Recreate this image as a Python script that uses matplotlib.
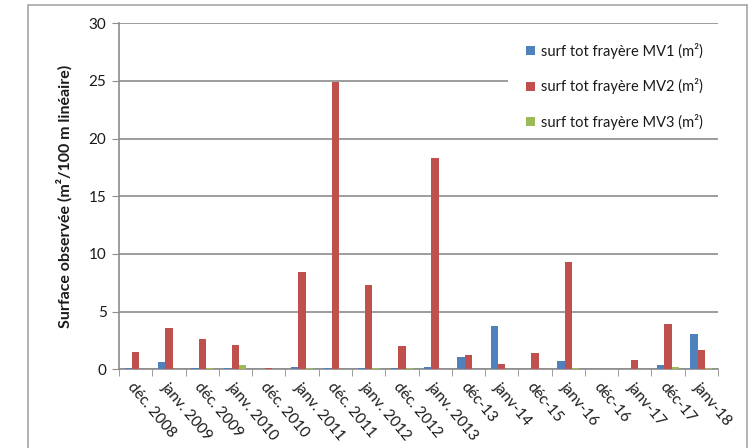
import numpy as np
import matplotlib.pyplot as plt
from matplotlib.patches import Rectangle

# --- Data ---
categories = ["déc. 2008", "janv. 2009", "déc. 2009", "janv. 2010", "déc. 2010",
              "janv. 2011", "déc. 2011", "janv. 2012", "déc. 2012", "janv. 2013",
              "déc-13", "janv-14", "déc-15", "janv-16", "déc-16", "janv-17",
              "déc-17", "janv-18"]
mv1 = [0.1, 0.6, 0.1, 0.1, 0.0, 0.2, 0.1, 0.1, 0.1, 0.2,
       1.1, 3.75, 0.0, 0.7, 0.0, 0.0, 0.4, 3.1]
mv2 = [1.5, 3.6, 2.6, 2.1, 0.1, 8.4, 24.9, 7.3, 2.0, 18.3,
       1.25, 0.45, 1.45, 9.3, 0.0, 0.8, 3.95, 1.7]
mv3 = [0.0, 0.0, 0.1, 0.35, 0.0, 0.1, 0.0, 0.1, 0.1, 0.0,
       0.0, 0.0, 0.0, 0.1, 0.0, 0.0, 0.2, 0.1]
labels = ["surf tot frayère MV1 (m²)", "surf tot frayère MV2 (m²)",
          "surf tot frayère MV3 (m²)"]
colors = ["#4F81BD", "#C0504D", "#9BBB59"]

plt.rcParams['font.family'] = ['Lato', 'DejaVu Sans']
GRID = "#8c8c8c"
TXT = "#1a1a1a"

fig = plt.figure(figsize=(7.53, 4.48), dpi=100)
# outer chart frame
fig.patches.append(Rectangle((28 / 753, -0.05), (747 - 28) / 753, 1.05 - 5 / 448,
                             transform=fig.transFigure, fill=False,
                             edgecolor="#a6a6a6", lw=1.2))
ax = fig.add_axes([119 / 753, 1 - 369.3 / 448, (718 - 119) / 753, (369.3 - 23.3) / 448])

x = np.arange(len(categories))
w = 0.22
handles = []
for i, (vals, c, lab) in enumerate(zip([mv1, mv2, mv3], colors, labels)):
    handles.append(ax.bar(x + (i - 1) * w, vals, width=w, color=c, label=lab, zorder=3))

ax.set_xlim(-0.5, len(categories) - 0.5)
ax.set_ylim(0, 30)
ax.set_yticks(range(0, 31, 5))
ax.yaxis.grid(True, color=GRID, lw=1.2, zorder=0)
ax.tick_params(axis='y', length=5, color=GRID, labelsize=11, labelcolor=TXT, pad=4)

ax.set_xticks(x)
ax.set_xticklabels(categories, rotation=-50, ha='left', va='top',
                   rotation_mode='anchor', fontsize=11, color=TXT)
ax.tick_params(axis='x', which='major', length=0, pad=8)
ax.set_xticks(np.arange(-0.5, len(categories)), minor=True)
ax.tick_params(axis='x', which='minor', length=5, color=GRID)

for s in ["top", "right"]:
    ax.spines[s].set_visible(False)
for s in ["left", "bottom"]:
    ax.spines[s].set_color(GRID)
    ax.spines[s].set_linewidth(1.2)

ax.set_ylabel("Surface observée (m²/100 m linéaire)", fontsize=11.5,
              fontweight='bold', labelpad=12, color=TXT)

# white legend area hiding the gridlines behind it
legend_bg = Rectangle((508 / 753, 1 - 136 / 448), (724 - 508) / 753, (136 - 26) / 448,
                      transform=fig.transFigure, facecolor='white',
                      edgecolor='none', zorder=2)
fig.add_artist(legend_bg)
leg = fig.legend(handles, labels, loc='upper left',
                 bbox_to_anchor=(526 / 753, 1 - 43 / 448),
                 frameon=False, fontsize=10.5,
                 handlelength=0.6, handleheight=0.6, handletextpad=0.4,
                 labelspacing=1.33, borderpad=0, borderaxespad=0)
for t in leg.get_texts():
    t.set_color(TXT)
leg.set_zorder(3)

fig.savefig("out.png", dpi=100)
